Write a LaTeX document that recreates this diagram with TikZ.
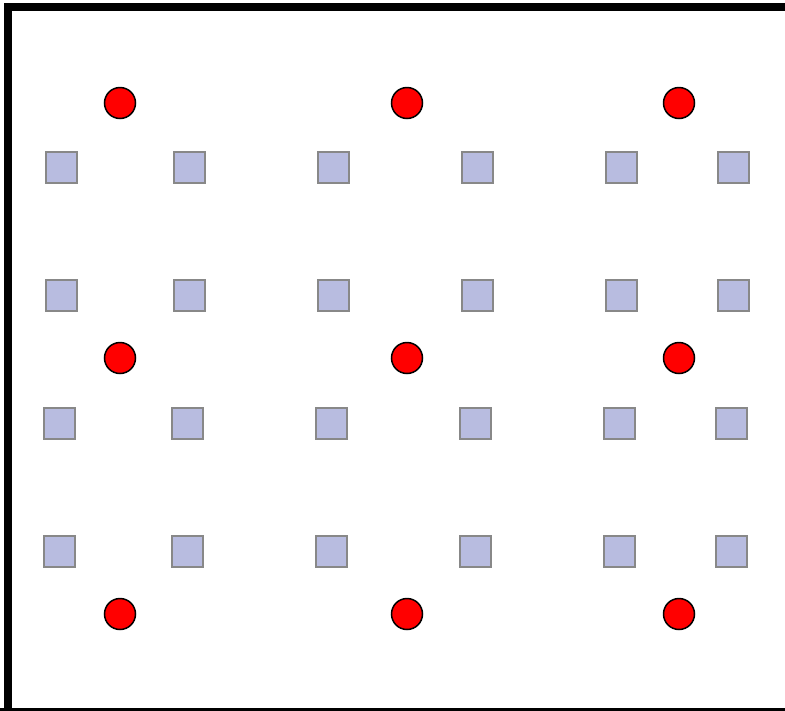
\documentclass[tikz,border=0pt]{standalone}
\usepackage{xcolor}
\definecolor{siteblue}{RGB}{184, 188, 224}
\definecolor{sitegray}{RGB}{136, 136, 136}
\definecolor{atomred}{RGB}{255, 0, 0}
\usepackage{tikz}
\usetikzlibrary{positioning}

\tikzset{
    atom/.style={circle, draw=black, line width=1.5pt, fill=atomred, minimum size=31pt, inner sep=0pt},
    site/.style={rectangle, draw=sitegray, line width=2pt, fill=siteblue, minimum size=31pt, inner sep=0pt},
}

\begin{document}
\begin{tikzpicture}[x=1pt, y=-1pt]
    \useasboundingbox (0, 0) rectangle (785, 710);
    \clip (0, 0) rectangle (785, 710);

    % frame
    \draw[line width=8pt, line join=miter] (8, 712) -- (8, 7) -- (795, 7);
    \draw[line width=3pt] (0, 709) -- (785, 709);

    % red atoms
    \foreach \row/\y in {1/103, 2/358, 3/614} {
        \foreach \col/\x in {1/120, 2/407, 3/679} {
            \node[atom] (atom-\row-\col) at (\x, \y) {};
        }
    }

    % blue sites, upper pair of rows
    \foreach \row/\y in {1/167, 2/295} {
        \foreach \col/\x in {1/61, 2/189, 3/333, 4/477, 5/621, 6/733} {
            \node[site] (site-\row-\col) at (\x, \y) {};
        }
    }
    % blue sites, lower pair of rows
    \foreach \row/\y in {3/423, 4/551} {
        \foreach \col/\x in {1/59, 2/187, 3/331, 4/475, 5/619, 6/731} {
            \node[site] (site-\row-\col) at (\x, \y) {};
        }
    }
\end{tikzpicture}
\end{document}
